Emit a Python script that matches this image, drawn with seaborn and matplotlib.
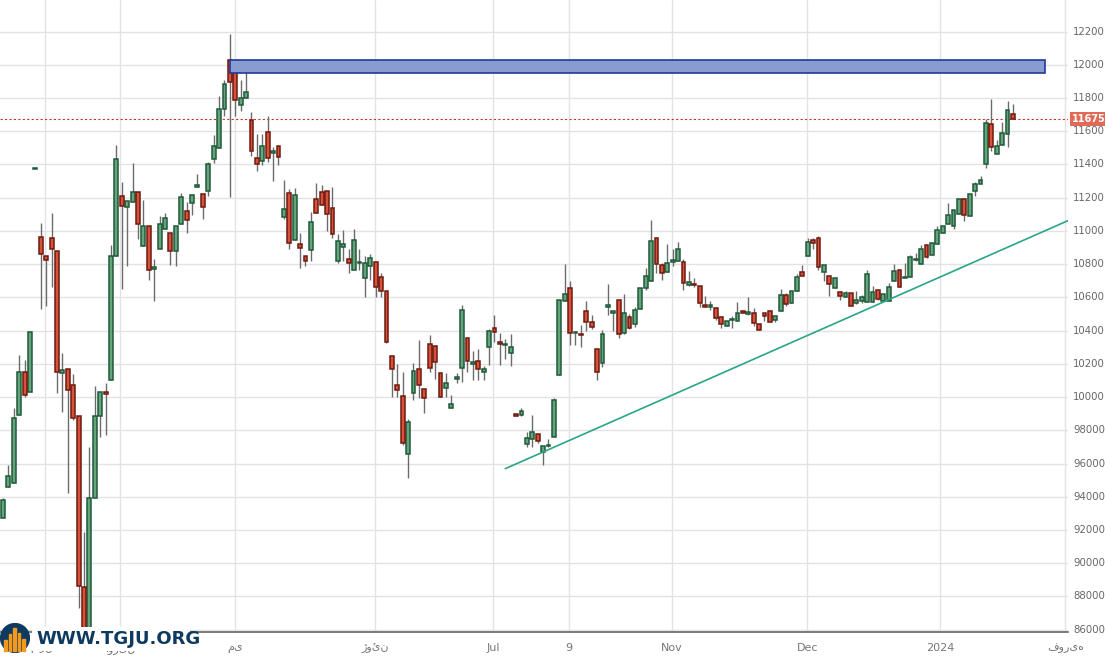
import matplotlib
matplotlib.use("Agg")
import matplotlib.pyplot as plt
import seaborn as sns
import numpy as np
import pandas as pd
from matplotlib.patches import Rectangle, Circle

candles = """92700,93900,92700,93800
94580,95900,94580,95270
94810,99340,94810,98720
98900,102560,98900,101480
101480,102240,100000,100100
100290,104000,100290,103900
113700,113700,113700,113700
109650,110450,105300,108610
108500,108500,105500,108270
109580,111070,106640,108890
108820,108820,100220,101480
101440,102650,99130,101620
101660,101660,94200,100450
100750,101370,98600,98720
98880,98880,87300,88650
88560,91900,85500,85800
85800,97000,85500,93920
93920,100680,93920,98880
98840,100290,97570,100290
100290,100840,97690,100170
101020,109140,101020,108500
108500,115200,108500,114300
112130,112940,106530,111530
111470,111830,107860,111830
111770,114070,111770,112320
112320,112320,109530,110390
109070,111880,109070,110320
110270,110270,107070,107620
107690,108310,105790,107800
108890,110870,108890,110390
110090,111100,110090,110750
109860,109860,107970,108820
108820,110320,107860,110320
110440,112300,110440,112040
111200,111760,109860,110660
111700,112140,110960,112140
112660,113400,112660,112780
112240,112240,110700,111440
112400,114140,112100,114040
114340,115800,114060,115120
115000,118140,115000,117340
117340,119100,116940,118840
120280,121860,112040,118960
119560,119900,116940,117880
117560,119100,117200,118000
117980,119940,117980,118380
116700,117180,114540,114820
114400,115860,113600,114040
114220,115860,113960,115120
115960,116940,114160,114400
114700,115060,113000,114820
115120,115120,113960,114460
110840,113040,110740,111340
112300,112500,108940,109300
109460,112600,109460,112180
109240,109900,107740,109000
108520,108520,107900,108220
108880,111140,108220,110560
111940,112860,111100,111100
112360,112740,111580,111580
112420,112420,110000,111040
111400,112620,109560,109840
108220,109800,108060,109420
109060,110040,108220,109240
108340,108900,107440,108100
107620,110100,107620,109480
108060,108900,107660,108060
107160,108500,106050,108060
107900,108600,107060,108360
108120,108120,106010,106650
107220,107460,106050,106410
106410,106410,103240,103340
102470,102470,100020,101670
100700,101990,100020,100400
100060,101510,97110,97250
96600,98710,95140,98510
100220,102030,99820,101550
101670,103440,99920,100700
100460,100460,99020,99920
103180,103740,101530,101730
103060,103060,101070,102090
101430,101430,99980,99980
100560,101430,100020,100820
99320,100120,99320,99580
101110,101430,100820,101110
101730,105550,100920,105230
103540,103540,101530,102150
101970,102770,101000,102090
102150,102890,101000,101670
101490,101850,101000,101670
103000,104120,101930,103960
104140,104950,103300,103900
103300,103840,101950,103180
103140,103480,102270,103140
102630,103800,101900,103000
98970,98970,98890,98890
98950,99320,98870,99190
97150,97910,97010,97510
97450,98910,97000,97890
97770,97770,97210,97370
96720,97030,95900,97030
97070,97500,97000,97070
97570,99960,97570,99800
101310,105850,101310,105850
105770,107980,105770,106200
106570,106970,103130,103840
103840,103840,103130,103840
103780,104340,102990,103720
105190,105760,104000,104510
104510,104950,104080,104200
102870,102870,101050,101480
102080,104040,101820,103780
105450,106830,104950,105450
105050,105190,104000,105190
105840,105840,103540,103780
103840,106220,103780,105050
104810,105010,104080,104140
104380,105410,104240,105250
105330,106570,105330,106570
106570,107780,106460,107310
106990,110650,106990,109410
109600,109600,107470,108020
107960,108080,107030,107470
107540,109190,107540,108080
108140,108930,107880,108260
108200,109310,108200,108930
108140,108320,106420,106870
106770,107580,106700,106930
106810,107170,106630,106730
106690,106690,105450,105660
105540,106100,105410,105410
105450,105810,105250,105450
105350,105350,104650,104750
104810,104810,104140,104380
104260,104570,104260,104570
104610,104890,104140,104610
104570,105740,104570,105050
105170,105170,105050,105050
105010,106020,104970,105110
105050,105350,104280,104440
104380,104380,104020,104020
105050,105050,104550,104870
105170,105250,104510,104510
104630,104870,104530,104870
105170,106530,105170,106140
106140,106260,105500,105600
105660,106400,105660,106400
106400,107410,106400,107230
107550,107950,107290,107290
108490,109560,108490,109320
109440,109560,108900,109260
109560,109700,107650,107810
107550,107930,107000,107930
107310,107310,106100,106780
106540,107140,106540,107140
106300,106300,105820,106060
106000,106360,106000,106240
106240,106240,105460,105460
105640,106360,105580,105820
105760,106120,105640,106000
105700,107650,105700,107390
105700,106660,105700,106300
106420,106420,105820,105880
105760,106180,105760,106180
105760,106840,105760,106600
106970,108010,106970,107570
107630,107630,106600,106600
107170,108070,107170,107170
107200,108550,107200,108410
108230,108650,108170,108230
108010,109160,108010,108900
109140,109140,108350,108410
108530,109260,108530,109260
109200,110300,109200,110040
109860,110280,109860,110280
110400,111690,110400,110950
110280,111250,110100,111250
111010,111910,111010,111910
111910,111910,110580,110950
110880,112210,110880,112210
112390,112930,112090,112810
112810,113300,112810,113060
114020,116730,113780,116490
116430,117940,114800,115050
114620,115470,114620,115110
115170,116550,115170,115890
115830,117820,115050,117280
117030,117640,116750,116750"""
rows = [list(map(float, r.split(","))) for r in candles.strip().splitlines()]
opens = [r[0] for r in rows]
highs = [r[1] for r in rows]
lows = [r[2] for r in rows]
closes = [r[3] for r in rows]

last_price = 116750
zone_low, zone_high = 119530, 120300
zone_start, zone_end = 42, 193
trend_x = [93, 197.2]
trend_y = [95690, 110620]
month_pos = [7.8, 21.7, 43, 68.9, 90.7, 104.8, 123.9, 148.9, 173.5, 196.7]
month_labels = ["مارس", "آوریل", "می", "ژوئن", "Jul", "9", "Nov", "Dec", "2024", "فوریه"]
ytick_vals = list(range(86000, 122001, 2000))

sns.set_style("white")
plt.rcParams['font.family'] = ['DejaVu Sans']

fig = plt.figure(figsize=(11.05, 6.59), dpi=100)
W, H = 1105, 659
ax = fig.add_axes([0, (H - 632) / H, 1068 / W, 632 / H])

df = pd.DataFrame({"o": opens, "h": highs, "l": lows, "c": closes})
df["i"] = np.arange(len(df))
up = df["c"] >= df["o"]

ax.vlines(df["i"], df["l"], df["h"], color="#6b6b6b", lw=1, zorder=2)
for sel, face, edge in [(up, "#66a57c", "#1f5a3a"), (~up, "#d8513a", "#6e1a10")]:
    d = df[sel]
    bot = np.minimum(d["o"], d["c"])
    hgt = np.maximum(np.abs(d["c"] - d["o"]), 70)
    ax.bar(d["i"], hgt, bottom=bot, width=0.72, color=face, edgecolor=edge, lw=1.1, zorder=3)

ax.add_patch(Rectangle((zone_start, zone_low), zone_end - zone_start, zone_high - zone_low,
                       facecolor="#8a9bd0", edgecolor="#1f3a99", lw=1.2, zorder=4))
sns.lineplot(x=trend_x, y=trend_y, ax=ax, color="#2aa58a", lw=1.2, zorder=4)
ax.axhline(last_price, color="#c0392b", lw=0.8, ls=(0, (2, 2)), zorder=1)

ax.set_xlim(-0.56, 197.2)
ax.set_ylim(85860, 123900)
ax.set_yticks(ytick_vals)
ax.set_xticks(month_pos)
ax.grid(True, color="#e3e3e3", lw=1)
ax.tick_params(axis="both", length=0, labelleft=False, labelbottom=False)
for s in ["top", "left", "right"]:
    ax.spines[s].set_visible(False)
ax.spines["bottom"].set_color("#666666")
ax.spines["bottom"].set_linewidth(1.2)

for v in ytick_vals:
    lab = str(v)[:5]
    ax.text(1.005, (v - 85860) / (123900 - 85860), lab, transform=ax.transAxes,
            fontsize=7.3, color="#666666", va="center", ha="left", clip_on=False)
for p, lab in zip(month_pos, month_labels):
    ax.text(p, -0.025, lab, transform=ax.get_xaxis_transform(), fontsize=8,
            color="#777777", ha="center", va="center", clip_on=False, zorder=1)
ax.text(1.004, (last_price - 85860) / (123900 - 85860), str(last_price)[:5], transform=ax.transAxes,
        fontsize=7, color="white", va="center", ha="left", fontweight="bold",
        bbox=dict(boxstyle="square,pad=0.2", fc="#e06a55", ec="none"), clip_on=False, zorder=6)

# logo
lax = fig.add_axes([0, 6 / H, 30 / W, 30 / H])
lax.set_zorder(10)
lax.set_xlim(0, 1); lax.set_ylim(0, 1); lax.axis("off")
lax.add_patch(Circle((0.5, 0.5), 0.48, color="#0f3a5f"))
for k, hh in enumerate([0.35, 0.55, 0.75, 0.6, 0.4]):
    lax.add_patch(Rectangle((0.14 + k * 0.15, 0.08), 0.08, hh, color="#f39a1e"))
tax = fig.add_axes([32 / W, 8 / H, 158 / W, 24 / H])
tax.set_zorder(9)
tax.set_xticks([]); tax.set_yticks([])
for s in tax.spines.values():
    s.set_visible(False)
tax.set_facecolor("white")
tax.text(0.03, 0.5, "WWW.TGJU.ORG", fontsize=13, fontweight="bold",
         color="#0f3a5f", va="center", ha="left", transform=tax.transAxes)

fig.savefig("out.png", dpi=100)
